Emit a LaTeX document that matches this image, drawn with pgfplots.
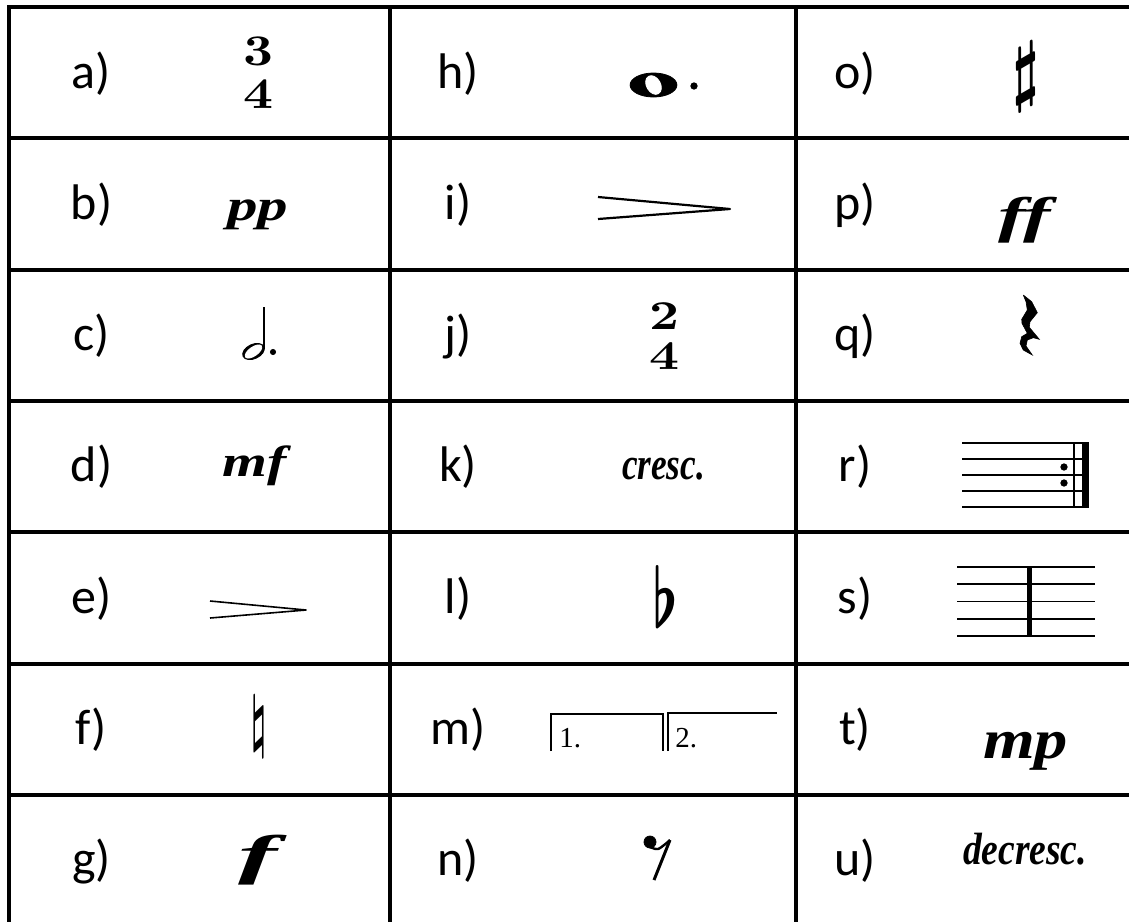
\documentclass[border=0pt]{standalone}
\usepackage{fontspec}
\setmainfont{Carlito}
\newfontfamily\tms{Liberation Serif}
\newfontfamily\lmr{Latin Modern Roman}
\usepackage{graphicx}
\usepackage{pgfplots}
\pgfplotsset{compat=1.18}

% glyph squeezed into a box of given width and total height
\newcommand{\glyph}[3]{\resizebox*{#1}{#2}{#3}}
\newcommand{\dyn}[1]{{\tms\bfseries\itshape #1}}
\newcommand{\lab}[3]{\node[anchor=base, inner sep=0] at (axis cs:#1,#2) {\fontsize{25}{27}\selectfont #3};}

\begin{document}
\begin{tikzpicture}
\begin{axis}[
    scale only axis,
    width=564.5pt, height=461pt,
    xmin=0, xmax=1129, ymin=0, ymax=922,
    y dir=reverse,
    axis line style={draw=none},
    axis background/.style={fill=white},
    ticks=none,
]
% table rules (pixel coordinates)
\addplot[black, line width=2pt] coordinates {(7,7)(1129,7)};
\addplot[black, line width=2pt] coordinates {(7,138.3)(1129,138.3)};
\addplot[black, line width=2pt] coordinates {(7,269.6)(1129,269.6)};
\addplot[black, line width=2pt] coordinates {(7,400.9)(1129,400.9)};
\addplot[black, line width=2pt] coordinates {(7,532.2)(1129,532.2)};
\addplot[black, line width=2pt] coordinates {(7,663.5)(1129,663.5)};
\addplot[black, line width=2pt] coordinates {(7,794.8)(1129,794.8)};
\addplot[black, line width=2pt] coordinates {(9,5)(9,922)};
\addplot[black, line width=2pt] coordinates {(390,5)(390,922)};
\addplot[black, line width=2pt] coordinates {(796,5)(796,922)};

% labels
\lab{91.5}{88}{a)}
\lab{91.5}{219.3}{b)}
\lab{91.5}{350.6}{c)}
\lab{91.5}{481.9}{d)}
\lab{91.5}{613.2}{e)}
\lab{91.5}{744.5}{f)}
\lab{91.5}{875.8}{g)}
\lab{458}{88}{h)}
\lab{458}{219.3}{i)}
\lab{458}{350.6}{j)}
\lab{458}{481.9}{k)}
\lab{458}{613.2}{l)}
\lab{458}{744.5}{m)}
\lab{458}{875.8}{n)}
\lab{855}{88}{o)}
\lab{855}{219.3}{p)}
\lab{855}{350.6}{q)}
\lab{855}{481.9}{r)}
\lab{855}{613.2}{s)}
\lab{855}{744.5}{t)}
\lab{855}{875.8}{u)}

% a) 3/4
\node[inner sep=0] at (axis cs:258,72.5) {\glyph{15pt}{35.5pt}{\lmr\bfseries\shortstack{3\\4}}};
% b) pp
\node[inner sep=0] at (axis cs:257.5,215) {\glyph{30.5pt}{15pt}{\dyn{pp}}};
% c) dotted half note
\addplot[only marks, mark=*, mark size=3.6pt, mark options={black, rotate=25, xscale=1.6}] coordinates {(253.5,351.5)};
\addplot[only marks, mark=*, mark size=2.2pt, mark options={white, draw=white, rotate=35, xscale=2.2}] coordinates {(253.5,351.5)};
\addplot[black, line width=0.8pt] coordinates {(264,307)(264,349)};
\addplot[only marks, mark=*, mark size=1.3pt, black] coordinates {(273,352)};
% d) mf
\node[inner sep=0] at (axis cs:255,466) {\glyph{32pt}{20pt}{\dyn{mf}}};
% e) decrescendo hairpin
\addplot[black, line width=0.8pt, line join=round] coordinates {(210,601)(306,610)(210,618)};
% f) natural
\node[inner sep=0] at (axis cs:258.5,727.5) {\glyph{7.5pt}{30.5pt}{\boldmath$\natural$}};
% g) f
\node[inner sep=0] at (axis cs:257.5,860) {\glyph{19.5pt}{25pt}{\dyn{f}}};

% h) dotted whole note
\addplot[only marks, mark=*, mark size=6pt, mark options={black, xscale=1.95}] coordinates {(653.5,85)};
\addplot[only marks, mark=*, mark size=5pt, mark options={white, draw=white, rotate=30, xscale=0.7}] coordinates {(653.5,85)};
\addplot[only marks, mark=*, mark size=1.6pt, black] coordinates {(694,86)};
% i) hairpin
\addplot[black, line width=1.1pt, line join=round] coordinates {(598,197)(730,209)(598,219)};
% j) 2/4
\node[inner sep=0] at (axis cs:664,336) {\glyph{15pt}{33pt}{\lmr\bfseries\shortstack{2\\4}}};
% k) cresc.
\node[inner sep=0] at (axis cs:663.5,469) {\glyph{41.5pt}{11pt}{\dyn{cresc.}}};
% l) flat
\node[inner sep=0] at (axis cs:665,596) {\glyph{13pt}{31pt}{\boldmath$\flat$}};
% m) volta brackets
\addplot[black, line width=1pt] coordinates {(551,751)(551,714)(663,714)(663,751)};
\addplot[black, line width=1pt] coordinates {(668,751)(668,713)(777,713)};
\node[anchor=base west, inner sep=0] at (axis cs:559,747) {\tms\fontsize{14.5}{16}\selectfont 1.};
\node[anchor=base west, inner sep=0] at (axis cs:675,747) {\tms\fontsize{14.5}{16}\selectfont 2.};
% n) eighth rest
\addplot[only marks, mark=*, mark size=3pt, black] coordinates {(650,842)};
\addplot[black, line width=1.2pt, smooth] coordinates {(648,846)(658,849)(670,840)};
\addplot[black, line width=1.5pt] coordinates {(670,840)(654,880)};

% o) sharp
\node[inner sep=0] at (axis cs:1025.5,77) {\glyph{13.5pt}{35pt}{\boldmath$\sharp$}};
% p) ff
\node[inner sep=0] at (axis cs:1024.5,220) {\glyph{26.5pt}{23pt}{\dyn{ff}}};
% q) quarter rest
\addplot[draw=black, fill=black, line width=0.3pt] coordinates {
    (1023.3,295) (1031.7,301.7) (1037.3,312.7) (1030,321.7) (1029.3,327.3)
    (1039.3,339.3) (1033.3,337.7) (1027.3,340) (1026,346) (1032.3,355)
    (1023.3,350) (1020,343.3) (1021.7,336.7) (1027.3,333.3) (1022,323.3)
    (1021.7,319.3) (1027.3,310) (1026,301.7) (1023.3,295)};
% r) staff with end repeat
\addplot[black, line width=0.75pt] coordinates {(962,443)(1089,443)};
\addplot[black, line width=0.75pt] coordinates {(962,459)(1089,459)};
\addplot[black, line width=0.75pt] coordinates {(962,475)(1089,475)};
\addplot[black, line width=0.75pt] coordinates {(962,491)(1089,491)};
\addplot[black, line width=0.75pt] coordinates {(962,507)(1089,507)};
\addplot[black, line width=0.8pt] coordinates {(1074,443)(1074,507)};
\addplot[black, line width=3.5pt] coordinates {(1085.5,443)(1085.5,507)};
\addplot[only marks, mark=*, mark size=1.6pt, black] coordinates {(1064,467)(1064,483)};
% s) staff with barline
\addplot[black, line width=0.75pt] coordinates {(957,567)(1095,567)};
\addplot[black, line width=0.75pt] coordinates {(957,584)(1095,584)};
\addplot[black, line width=0.75pt] coordinates {(957,601.5)(1095,601.5)};
\addplot[black, line width=0.75pt] coordinates {(957,619)(1095,619)};
\addplot[black, line width=0.75pt] coordinates {(957,636)(1095,636)};
\addplot[black, line width=2.5pt] coordinates {(1029,567)(1029,636)};
% t) mp
\node[inner sep=0] at (axis cs:1025.5,751) {\glyph{42.5pt}{19pt}{\dyn{mp}}};
% u) decresc.
\node[inner sep=0] at (axis cs:1025,849) {\glyph{62pt}{16pt}{\dyn{decresc.}}};
\end{axis}
\end{tikzpicture}
\end{document}
